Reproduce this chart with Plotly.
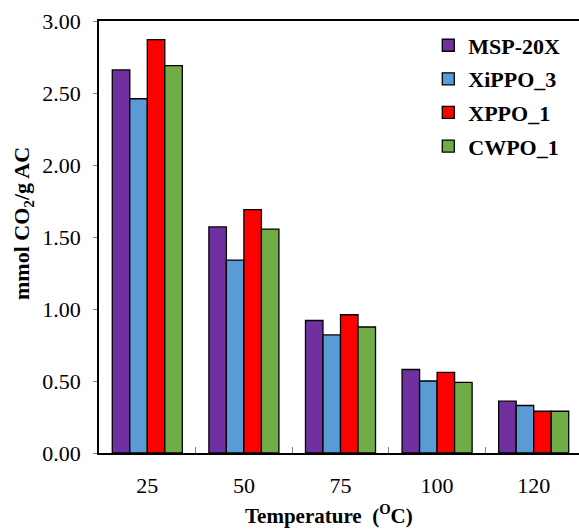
import plotly.graph_objects as go

# CO2 uptake (mmol CO2 / g AC) at each adsorption temperature
temperatures = ["25", "50", "75", "100", "120"]
msp_20x = [2.66, 1.57, 0.92, 0.58, 0.36]
xippo_3 = [2.46, 1.34, 0.82, 0.50, 0.33]
xppo_1 = [2.87, 1.69, 0.96, 0.56, 0.29]
cwpo_1 = [2.69, 1.555, 0.875, 0.49, 0.29]

series = [
    ("MSP-20X", msp_20x, "#7030A0"),
    ("XiPPO_3", xippo_3, "#5B9BD5"),
    ("XPPO_1", xppo_1, "#FF0000"),
    ("CWPO_1", cwpo_1, "#70AD47"),
]

SERIF = "Liberation Serif, Times New Roman, serif"

fig = go.Figure()
for name, vals, color in series:
    fig.add_trace(go.Bar(
        x=temperatures,
        y=vals,
        name=name,
        legendgroup=name,
        marker=dict(color=color, line=dict(color="black", width=1.3)),
    ))

fig.update_layout(
    width=579,
    height=529,
    margin=dict(l=99, r=0, t=21, b=76),
    paper_bgcolor="white",
    plot_bgcolor="white",
    barmode="group",
    bargap=0.275,
    bargroupgap=0,
    font=dict(family=SERIF, color="black", size=22),
    showlegend=True,
    legend=dict(
        x=0.686, y=0.992, xanchor="left", yanchor="top",
        traceorder="grouped",
        tracegroupgap=2,
        font=dict(family=SERIF, size=22, color="black", weight="bold"),
        bgcolor="rgba(0,0,0,0)",
    ),
    xaxis=dict(
        type="category",
        range=[-0.5, 4.469],
        showline=True,
        linecolor="black",
        linewidth=1.5,
        mirror=True,
        ticks="inside",
        tickson="boundaries",
        ticklen=6,
        tickcolor="#808080",
        tickfont=dict(family=SERIF, size=22, color="black"),
        ticklabelstandoff=12,
        showgrid=False,
        zeroline=False,
    ),
    yaxis=dict(
        range=[0, 3],
        tickvals=[0, 0.5, 1.0, 1.5, 2.0, 2.5, 3.0],
        tickformat=".2f",
        showline=True,
        linecolor="black",
        linewidth=1.5,
        ticks="outside",
        ticklen=4,
        tickcolor="#808080",
        tickfont=dict(family=SERIF, size=22, color="black"),
        ticklabelstandoff=8,
        showgrid=False,
        zeroline=False,
    ),
    annotations=[
        dict(
            text="<b>mmol CO<sub>2</sub>/g AC</b>",
            xref="paper", yref="paper",
            x=0, y=0.5, xanchor="center", yanchor="middle",
            xshift=-76, yshift=13,
            textangle=-90,
            showarrow=False,
            font=dict(family=SERIF, size=22, color="black"),
        ),
        dict(
            text="<b>Temperature  (<sup>O</sup>C)</b>",
            xref="paper", yref="paper",
            x=0.5, y=0, xanchor="center", yanchor="middle",
            xshift=-10, yshift=-61,
            showarrow=False,
            font=dict(family=SERIF, size=21, color="black"),
        ),
    ],
)

fig.write_html("out.html")
